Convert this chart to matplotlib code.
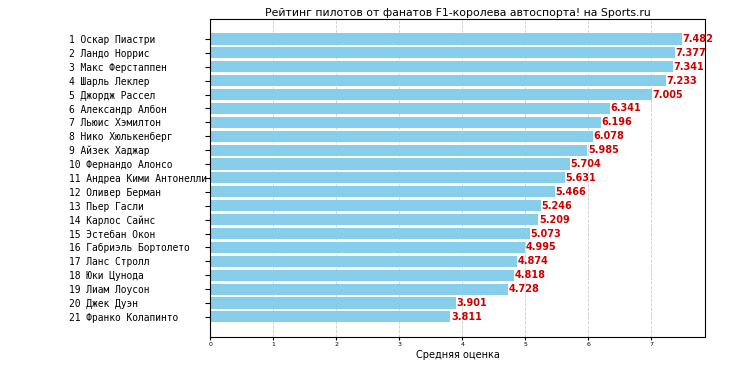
import numpy as np
import matplotlib.pyplot as plt

names = ["Оскар Пиастри", "Ландо Норрис", "Макс Ферстаппен", "Шарль Леклер",
         "Джордж Рассел", "Александр Албон", "Льюис Хэмилтон", "Нико Хюлькенберг",
         "Айзек Хаджар", "Фернандо Алонсо", "Андреа Кими Антонелли", "Оливер Берман",
         "Пьер Гасли", "Карлос Сайнс", "Эстебан Окон", "Габриэль Бортолето",
         "Ланс Стролл", "Юки Цунода", "Лиам Лоусон", "Джек Дуэн", "Франко Колапинто"]
scores = [7.482, 7.377, 7.341, 7.233, 7.005, 6.341, 6.196, 6.078, 5.985, 5.704,
          5.631, 5.466, 5.246, 5.209, 5.073, 4.995, 4.874, 4.818, 4.728, 3.901, 3.811]

labels = ["%d %s" % (i + 1, n) for i, n in enumerate(names)]
y = np.arange(len(scores))

fig, ax = plt.subplots(figsize=(7.3, 3.65), dpi=100)
fig.subplots_adjust(left=0.288, right=0.966, top=0.948, bottom=0.077)

ax.barh(y, scores, height=0.8, color='skyblue', zorder=2)
ax.invert_yaxis()
ax.set_xlim(0, max(scores) * 1.05)

for yi, s in zip(y, scores):
    ax.text(s + 0.01, yi, "%.3f" % s, va='center', ha='left',
            color='#cc0000', fontweight='bold', fontsize=7)

ax.set_yticks(y)
ax.set_yticklabels(labels, family='DejaVu Sans Mono', fontsize=6.9, ha='left')
ax.tick_params(axis='y', pad=98.3)
ax.tick_params(axis='x', labelsize=4.5, length=2, pad=1.5)
ax.grid(axis='x', linestyle='--', color='#cccccc', linewidth=0.6, zorder=0)

ax.set_title("Рейтинг пилотов от фанатов F1-королева автоспорта! на Sports.ru",
             fontsize=7.8, pad=2.5)
ax.set_xlabel("Средняя оценка", fontsize=7, labelpad=2)

plt.savefig("out.png", dpi=100)
